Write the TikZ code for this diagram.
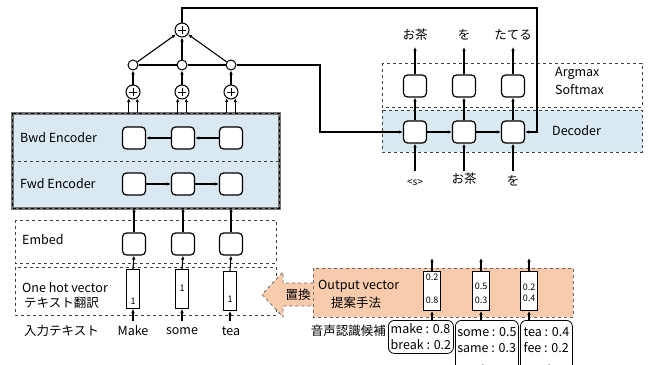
\documentclass[tikz,border=0pt]{standalone}
\usepackage{fontspec}
\setmainfont{Noto Sans CJK JP}
\usetikzlibrary{arrows.meta}
\definecolor{encblue}{RGB}{217,232,241}
\definecolor{peach}{RGB}{248,203,173}
\begin{document}
\begin{tikzpicture}[x=1pt,y=-1pt,
  cell/.style={draw, line width=1.2pt, rounded corners=4pt, minimum width=23pt, minimum height=22pt, fill=white, inner sep=0pt},
  plusn/.style={circle, draw, line width=1pt, minimum size=14pt, inner sep=0pt, fill=white,
    path picture={\draw[line width=1pt] ([xshift=-4pt]path picture bounding box.center) -- ([xshift=4pt]path picture bounding box.center);
                  \draw[line width=1pt] ([yshift=-4pt]path picture bounding box.center) -- ([yshift=4pt]path picture bounding box.center);}},
  dotn/.style={circle, draw, line width=1pt, minimum size=10pt, inner sep=0pt, fill=white},
  arr/.style={-{Latex[length=4pt,width=3.5pt]}, line width=1.1pt},
  ln/.style={line width=1.1pt},
  vec/.style={draw, line width=0.8pt, minimum width=13pt, minimum height=39pt, fill=white, inner sep=0pt},
  ovec/.style={draw, line width=0.8pt, minimum width=17pt, minimum height=39pt, fill=white, inner sep=0pt},
  dbox/.style={draw=black!75, dashed, line width=0.8pt},
  lbl/.style={anchor=west, inner sep=0pt, font=\fontsize{12.5}{13}\selectfont},
  wd/.style={inner sep=0pt, font=\fontsize{12.5}{13}\selectfont},
  num/.style={inner sep=0pt, font=\fontsize{9}{10}\selectfont},
  cand/.style={draw, line width=0.8pt, rounded corners=6pt, align=left, anchor=north west, inner sep=1.5pt, font=\fontsize{12.5}{16}\selectfont}
]
\useasboundingbox (0,0) rectangle (655,364);
\clip (0,0) rectangle (655,364);

% ---------- encoder ----------
\fill[encblue] (12,113) rectangle (279,208);
\draw[dbox] (12,161) -- (279,161);
\draw[black!55, line width=3pt] (12,113) rectangle (279,208);
\draw[black, dashed, line width=0.8pt] (12,113) rectangle (279,208);
\coordinate (encT) at (0,113);
\coordinate (encB) at (0,208);
\node[lbl] (bwdl) at (20,138) {Bwd Encoder};
\node[lbl] (fwdl) at (20,184) {Fwd Encoder};

\node[cell] (b1) at (134,138) {};
\node[cell] (b2) at (183,138) {};
\node[cell] (b3) at (231,138) {};
\node[cell] (f1) at (134,184) {};
\node[cell] (f2) at (183,184) {};
\node[cell] (f3) at (231,184) {};
\draw[arr] (b3) -- (b2);
\draw[arr] (b2) -- (b1);
\draw[arr] (f1) -- (f2);
\draw[arr] (f2) -- (f3);

% ---------- embed ----------
\draw[dbox] (15,220) rectangle (276,263);
\node[lbl] (embl) at (22,240) {Embed};
\node[cell] (e1) at (134,244) {};
\node[cell] (e2) at (183,244) {};
\node[cell] (e3) at (231,244) {};
\foreach \i in {1,2,3}{\draw[arr] (e\i.north) -- (e\i.north |- encB);}

% ---------- one hot ----------
\draw[dbox] (15,267) rectangle (276,315);
\node[lbl] (ohl) at (22,288) {One hot vector};
\node[lbl] (ohj) at (24,303) {テキスト翻訳};
\node[vec] (v1) at (133,289) {};
\node[vec] (v2) at (182,289) {};
\node[vec] (v3) at (230,291) {};
\node[num] (n1) at (133,301) {1};
\node[num] (n2) at (182,288) {1};
\node[num] (n3) at (230,299) {1};
\foreach \i in {1,2,3}{\draw[arr] (v\i.north) -- (e\i.south);}

\node[wd, anchor=west] (inl) at (24,331) {入力テキスト};
\node[wd] (w1) at (133,331) {Make};
\node[wd] (w2) at (182,331) {some};
\node[wd] (w3) at (231,331) {tea};
\coordinate (wT) at (0,321);
\foreach \i in {1,2,3}{\draw[arr] (v\i.south |- wT) -- (v\i.south);}

% ---------- pluses ----------
\node[plusn] (p1) at (133,92) {};
\node[plusn] (p2) at (182,92) {};
\node[plusn] (p3) at (231,92) {};
\foreach \i in {1,2,3}{
  \draw[arr] (p\i.-125 |- encT) -- (p\i.-125);
  \draw[arr] (p\i.-55 |- encT) -- (p\i.-55);
}
\node[dotn] (c1) at (133,65) {};
\node[dotn] (c2) at (182,65) {};
\node[dotn] (c3) at (231,65) {};
\foreach \i in {1,2,3}{\draw[arr] (p\i) -- (c\i);}
\draw[ln] (c1) -- (c2);
\draw[ln] (c2) -- (c3);
\node[plusn] (pt) at (182,30) {};
\foreach \i in {1,2,3}{\draw[arr] (c\i) -- (pt);}

% ---------- decoder ----------
\draw[dbox] (382,63) rectangle (642,107);
\fill[encblue] (382,110) rectangle (642,152);
\draw[dbox] (382,110) rectangle (642,152);
\node[lbl] (argl) at (555,73) {Argmax};
\node[lbl] (sofl) at (555,90) {Softmax};
\node[lbl] (decl) at (552,131) {Decoder};

\node[cell] (d1) at (415,132) {};
\node[cell] (d2) at (464,132) {};
\node[cell] (d3) at (513,132) {};
\node[cell] (a1) at (415,86) {};
\node[cell] (a2) at (464,86) {};
\node[cell] (a3) at (513,86) {};
\draw[arr] (d1) -- (d2);
\draw[arr] (d2) -- (d3);
\foreach \i in {1,2,3}{\draw[arr] (d\i) -- (a\i);}

\node[wd] (o1) at (415,35) {お茶};
\node[wd] (o2) at (464,35) {を};
\node[wd] (o3) at (513,35) {たてる};
\coordinate (oB) at (0,47);
\foreach \i in {1,2,3}{\draw[arr] (a\i.north) -- (a\i.north |- oB);}

\node[inner sep=0pt, font=\fontsize{10}{11}\selectfont] (i1) at (415,183) {<s>};
\node[wd] (i2) at (464,179) {お茶};
\node[wd] (i3) at (513,181) {を};
\coordinate (iT) at (0,171);
\foreach \i in {1,2,3}{\draw[arr] (d\i.south |- iT) -- (d\i.south);}

% connections
\coordinate (k1) at (537,8);
\draw[arr] (pt.north) |- (k1) |- (d3.east);
\coordinate (k2) at (320,0);
\draw[arr] (c3.east) -| (k2 |- d1) -- (d1.west);

% ---------- output vector ----------
\fill[peach] (313,268) rectangle (573,317);
\draw[dbox, draw=black!60] (313,268) rectangle (573,317);
\draw[dbox, draw=black!60, fill=peach] (313,283) -- (283,283) -- (283,272) -- (262,294.5) -- (283,317) -- (283,306) -- (313,306);
\node[wd] (chg) at (298,295) {置換};
\node[lbl] (ovl) at (318,286) {Output vector};
\node[lbl] (ovj) at (331,303) {提案手法};

\node[ovec] (ov1) at (432,291) {};
\node[ovec] (ov2) at (481,291) {};
\node[ovec] (ov3) at (529,291) {};
\node[num] (q11) at (432,277) {0.2};
\node[num] (q12) at (432,300) {0.8};
\node[num] (q21) at (481,286) {0.5};
\node[num] (q22) at (481,300) {0.3};
\node[num] (q31) at (529,287) {0.2};
\node[num] (q32) at (529,298) {0.4};
\coordinate (ovT) at (0,258);
\foreach \i in {1,2,3}{\draw[arr] (ov\i.north) -- (ov\i.north |- ovT);}

\node[cand, minimum width=65pt, minimum height=33pt] (cb1) at (388,320) {make : 0.8\\break : 0.2};
\node[cand, minimum width=63pt, minimum height=56pt] (cb2) at (455,320) {some : 0.5\\same : 0.3\\\hspace*{24pt}$\cdot$};
\node[cand, minimum width=52pt, minimum height=56pt] (cb3) at (520,320) {tea : 0.4\\fee : 0.2\\\hspace*{24pt}$\cdot$};
\foreach \i in {1,2,3}{\draw[arr] (ov\i.south |- cb\i.north) -- (ov\i.south);}
\node[wd, anchor=east] (cl) at (386,331) {音声認識候補};
\end{tikzpicture}
\end{document}
